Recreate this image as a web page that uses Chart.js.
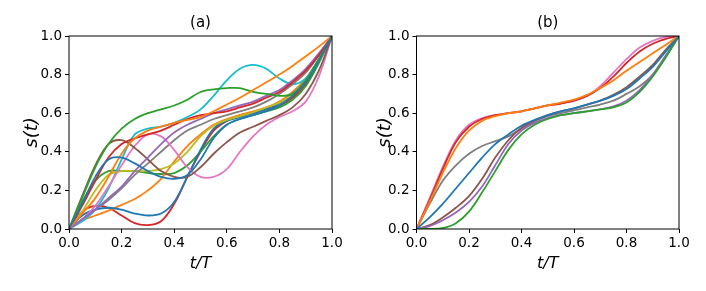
<!DOCTYPE html>
<html>
<head>
<meta charset="utf-8">
<script src="https://cdn.jsdelivr.net/npm/chart.js@4.4.0/dist/chart.umd.min.js"></script>
<style>
  body { margin: 0; background: #fff; }
  #wrap { position: relative; width: 706px; height: 291px; }
  canvas { position: absolute; top: 0; }
</style>
</head>
<body>
<div id="wrap">
  <canvas id="chartA" width="353" height="291" style="left:0"></canvas>
  <canvas id="chartB" width="353" height="291" style="left:353px"></canvas>
</div>
<script>
// sample times t/T shared by all curves
const tVals = [0, 0.05, 0.1, 0.15, 0.2, 0.25, 0.3, 0.35, 0.4, 0.45, 0.5,
               0.55, 0.6, 0.65, 0.7, 0.75, 0.8, 0.85, 0.9, 0.95, 1];
const tickVals = [0, 0.2, 0.4, 0.6, 0.8, 1.0];

// tab10 colour cycle
const tab10 = ["#1f77b4", "#ff7f0e", "#2ca02c", "#d62728", "#9467bd",
               "#8c564b", "#e377c2", "#7f7f7f", "#bcbd22", "#17becf"];

// panel (a): 14 curves
const a01 = [0, .13, .27, .36, .37, .34, .30, .27, .26, .28, .36, .47, .54, .57, .59, .61, .64, .69, .76, .87, 1];
const a02 = [0, .08, .16, .27, .39, .47, .51, .53, .55, .565, .58, .61, .645, .68, .72, .76, .80, .845, .895, .945, 1];
const a03 = [0, .16, .32, .44, .52, .57, .60, .62, .64, .67, .71, .724, .73, .73, .71, .70, .69, .70, .77, .88, 1];
const a04 = [0, .12, .25, .37, .44, .47, .49, .51, .54, .57, .59, .60, .61, .63, .65, .68, .71, .76, .82, .90, 1];
const a05 = [0, .05, .10, .16, .22, .30, .37, .44, .50, .54, .57, .60, .62, .64, .66, .69, .72, .77, .83, .91, 1];
const a06 = [0, .17, .33, .44, .46, .42, .36, .30, .27, .27, .32, .39, .45, .50, .53, .56, .59, .63, .70, .82, 1];
const a07 = [0, .05, .12, .22, .33, .43, .49, .48, .41, .32, .27, .27, .31, .40, .48, .54, .58, .61, .66, .79, 1];
const a08 = [0, .05, .10, .15, .21, .28, .34, .40, .46, .51, .54, .57, .59, .61, .63, .66, .70, .75, .81, .90, 1];
const a09 = [0, .09, .20, .28, .30, .30, .30, .31, .34, .40, .48, .535, .565, .585, .605, .63, .655, .70, .77, .87, 1];
const a10 = [0, .04, .10, .21, .36, .49, .52, .53, .55, .58, .62, .69, .77, .83, .85, .83, .78, .75, .78, .88, 1];
const a11 = [0, .07, .10, .11, .10, .08, .07, .08, .14, .27, .41, .52, .56, .58, .60, .62, .65, .70, .77, .88, 1];
const a12 = [0, .045, .07, .095, .125, .155, .20, .26, .35, .43, .49, .54, .57, .59, .61, .63, .66, .71, .78, .88, 1];
const a13 = [0, .14, .25, .30, .30, .30, .29, .285, .29, .33, .40, .48, .54, .57, .59, .61, .63, .67, .74, .86, 1];
const a14 = [0, .09, .12, .11, .07, .03, .02, .04, .13, .27, .40, .51, .56, .59, .60, .62, .64, .68, .75, .87, 1];
const seriesA = [a01, a02, a03, a04, a05, a06, a07, a08, a09, a10, a11, a12, a13, a14];

// panel (b): 8 curves
const b01 = [0, .06, .13, .21, .29, .37, .44, .49, .535, .565, .59, .61, .625, .645, .665, .69, .725, .78, .84, .92, 1];
const b02 = [0, .14, .29, .42, .51, .56, .585, .60, .61, .625, .64, .655, .67, .695, .73, .77, .82, .865, .91, .955, 1];
const b03 = [0, 0, .005, .03, .09, .19, .30, .41, .49, .54, .57, .59, .60, .61, .62, .63, .655, .71, .79, .89, 1];
const b04 = [0, .15, .31, .45, .53, .57, .59, .60, .61, .625, .64, .65, .665, .69, .73, .79, .86, .92, .96, .985, 1];
const b05 = [0, .015, .045, .085, .14, .22, .33, .44, .51, .55, .575, .59, .60, .61, .62, .635, .665, .72, .80, .90, 1];
const b06 = [0, .02, .06, .11, .17, .26, .37, .46, .525, .56, .59, .61, .625, .645, .665, .695, .735, .79, .85, .93, 1];
const b07 = [0, .16, .32, .46, .54, .575, .59, .60, .61, .625, .64, .65, .665, .69, .74, .81, .88, .94, .975, .995, 1];
const b08 = [0, .13, .25, .33, .39, .43, .455, .48, .52, .56, .585, .60, .615, .63, .645, .665, .70, .74, .80, .895, 1];
const seriesB = [b01, b02, b03, b04, b05, b06, b07, b08];

const framePlugin = {
    id: "frame",
    afterDraw(chart, args, opts) {
        const { ctx, chartArea: a } = chart;
        ctx.save();
        ctx.strokeStyle = "#000";
        ctx.lineWidth = 1;
        ctx.strokeRect(a.left, a.top, a.right - a.left, a.bottom - a.top);
        ctx.fillStyle = "#000";
        ctx.font = "15px 'DejaVu Sans'";
        ctx.textAlign = "center";
        ctx.textBaseline = "bottom";
        ctx.fillText(opts.label, (a.left + a.right) / 2, a.top - 5);
        ctx.restore();
    }
};

function makeChart(canvasId, series, label, leftW, rightPad) {
    const ctx = document.getElementById(canvasId).getContext("2d");
    const datasets = series.map((vals, i) => ({
        data: vals.map((v, k) => ({ x: tVals[k], y: v })),
        borderColor: tab10[i % 10],
        borderWidth: 1.8,
        pointRadius: 0,
        tension: 0.35,
        fill: false
    }));
    const tickFont = { family: "'DejaVu Sans'", size: 13.5 };
    const grid = { drawOnChartArea: false, drawTicks: true, tickLength: 4, color: "#000" };
    return new Chart(ctx, {
        type: "line",
        data: { datasets: datasets },
        options: {
            responsive: false,
            animation: false,
            devicePixelRatio: 1,
            layout: { padding: { top: 36, right: rightPad, left: 0, bottom: 0 } },
            plugins: { legend: { display: false }, tooltip: { enabled: false }, frame: { label: label } },
            scales: {
                x: {
                    type: "linear", min: 0, max: 1,
                    afterBuildTicks: s => { s.ticks = tickVals.map(v => ({ value: v })); },
                    ticks: { color: "#000", font: tickFont, padding: 2, maxRotation: 0,
                             callback: v => v.toFixed(1) },
                    grid: grid,
                    border: { display: false },
                    title: { display: true, text: "t/T", color: "#000",
                             font: { family: "'DejaVu Sans'", size: 16, style: "italic" },
                             padding: { top: 0, bottom: 18 } },
                    afterFit: s => { s.height = 62; }
                },
                y: {
                    min: 0, max: 1,
                    afterBuildTicks: s => { s.ticks = tickVals.map(v => ({ value: v })); },
                    ticks: { color: "#000", font: tickFont, padding: 3,
                             callback: v => v.toFixed(1) },
                    grid: grid,
                    border: { display: false },
                    title: { display: true, text: "s(t)", color: "#000",
                             font: { family: "'DejaVu Sans'", size: 18, style: "italic" },
                             padding: { top: 22, bottom: 0 } },
                    afterFit: s => { s.width = leftW; }
                }
            }
        },
        plugins: [framePlugin]
    });
}

makeChart("chartA", seriesA, "(a)", 69, 21);
makeChart("chartB", seriesB, "(b)", 63.5, 27);
</script>
</body>
</html>
